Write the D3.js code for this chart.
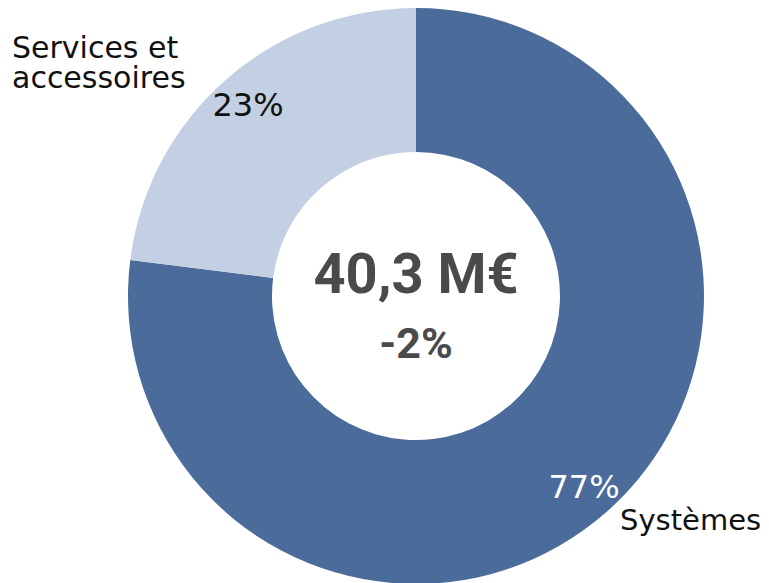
<!DOCTYPE html>
<html lang="fr">
<head>
<meta charset="UTF-8">
<title>Répartition du chiffre d'affaires</title>
<script src="https://d3js.org/d3.v7.min.js"></script>
<style>
  body { margin: 0; background: #fff; }
  text { font-family: "DejaVu Sans", sans-serif; }
  .centre { font-family: Roboto, "DejaVu Sans", sans-serif; font-weight: bold; }
</style>
</head>
<body>
<svg id="chart" width="769" height="583"></svg>
<script>
// data
const segments = ["Systèmes", "Services et accessoires"];
const shares = [77, 23];
const pctLabels = ["77%", "23%"];
const totalLabel = "40,3 M€";
const changeLabel = "-2%";

const svg = d3.select("#chart");
const cx = 416, cy = 296;
const outerR = 288, innerR = 144;

const color = d3.scaleOrdinal().domain(segments).range(["#4b6c9b", "#c3cfe2"]);

const pie = d3.pie().sort(null).value(d => d.v);
const arcs = pie(segments.map((s, i) => ({ name: s, v: shares[i], pct: pctLabels[i] })));
const arc = d3.arc().innerRadius(innerR).outerRadius(outerR);

const g = svg.append("g").attr("transform", `translate(${cx},${cy})`);

g.selectAll("path.slice")
  .data(arcs)
  .join("path")
  .attr("class", "slice")
  .attr("d", arc)
  .attr("fill", d => color(d.data.name));

// percent labels: mid-angle of each slice, near the outer rim
const labelArc = d3.arc().innerRadius(254).outerRadius(254);
g.selectAll("text.pct")
  .data(arcs)
  .join("text")
  .attr("class", "pct")
  .attr("x", d => labelArc.centroid(d)[0])
  .attr("y", d => labelArc.centroid(d)[1] + 11)
  .attr("text-anchor", "middle")
  .attr("font-size", 32)
  .attr("fill", (d, i) => i === 0 ? "#ffffff" : "#111111")
  .text(d => d.data.pct);

// category labels
svg.append("text")
  .attr("x", 620).attr("y", 530)
  .attr("font-size", 29)
  .attr("fill", "#111")
  .text(segments[0]);

const svcLabel = svg.append("text")
  .attr("x", 12).attr("y", 58)
  .attr("font-size", 30)
  .attr("fill", "#111");
svcLabel.append("tspan").attr("x", 12).attr("dy", 0).text("Services et");
svcLabel.append("tspan").attr("x", 12).attr("dy", 30).text("accessoires");

// centre
g.append("text")
  .attr("class", "centre")
  .attr("y", -3)
  .attr("text-anchor", "middle")
  .attr("font-size", 56)
  .attr("fill", "#4a4a4c")
  .text(totalLabel);
g.append("text")
  .attr("class", "centre")
  .attr("y", 62)
  .attr("text-anchor", "middle")
  .attr("font-size", 43)
  .attr("fill", "#4a4a4c")
  .text(changeLabel);
</script>
</body>
</html>
